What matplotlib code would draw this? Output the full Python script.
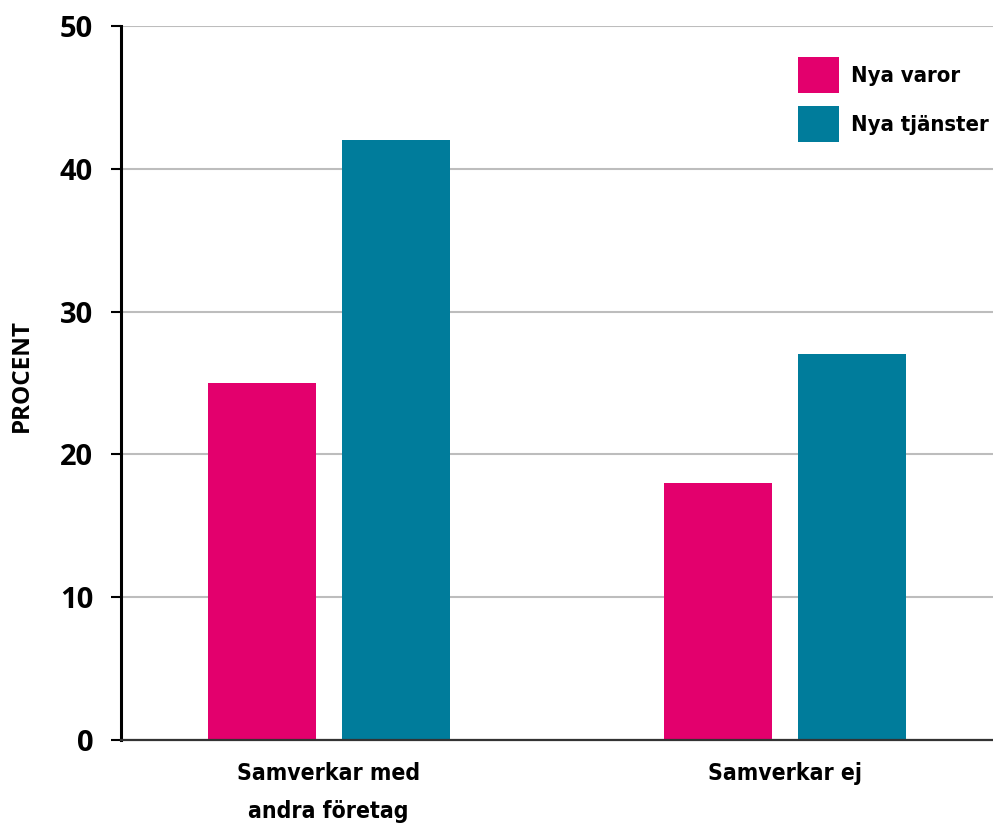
import matplotlib
matplotlib.use("Agg")
import matplotlib.pyplot as plt
import numpy as np

# andel företag med nya varor/tjänster, procent
kategorier = ["Samverkar med\nandra företag", "Samverkar ej"]
serier = ["Nya varor", "Nya tjänster"]
nya_varor = [25, 18]
nya_tjanster = [42, 27]
yticks = [0, 10, 20, 30, 40, 50]

ROSA = "#E3006D"
PETROL = "#007C9B"
GRID = "#BDBDBD"

num_font = dict(family=["Open Sans", "DejaVu Sans"], weight="bold")
narrow_font = dict(family=["DejaVu Sans"], weight="bold", stretch="condensed")

fig = plt.figure(figsize=(9.93, 8.23), dpi=100)
ax = fig.add_axes([121 / 993, 1 - 740 / 823, 1 - 121 / 993, (740 - 26) / 823])

x = np.arange(len(kategorier))
w = 0.237
off = 0.147
ax.bar(x - off, nya_varor, width=w, color=ROSA, label=serier[0], zorder=3)
ax.bar(x + off, nya_tjanster, width=w, color=PETROL, label=serier[1], zorder=3)

ax.set_xlim(-0.455, 1.455)
ax.set_ylim(0, 50)
ax.set_yticks(yticks)
ax.set_yticklabels([str(t) for t in yticks], fontsize=21, **num_font)
ax.set_xticks(x)
ax.set_xticklabels(kategorier, fontsize=16.5, linespacing=1.8, **narrow_font)

ax.yaxis.grid(True, color=GRID, linewidth=1.5, zorder=0)
ax.set_axisbelow(True)
ax.tick_params(axis="y", length=7, width=1.5, pad=13, color="black")
ax.tick_params(axis="x", length=0, pad=16)

for s in ["top", "right"]:
    ax.spines[s].set_visible(False)
ax.spines["left"].set_linewidth(2.2)
ax.spines["left"].set_color("black")
ax.spines["bottom"].set_linewidth(1.6)
ax.spines["bottom"].set_color("#333333")
ax.spines["bottom"].set_zorder(4)

ax.set_ylabel("PROCENT", fontsize=17.5, **num_font)
ax.yaxis.set_label_coords(-0.1, 0.51)

ax.legend(loc="upper left", bbox_to_anchor=(798 / 993, 1 - 57 / 823),
          bbox_transform=fig.transFigure, frameon=False, borderpad=0,
          borderaxespad=0, handlelength=1.87, handleheight=2.15,
          handletextpad=0.55, labelspacing=0.59,
          prop=dict(family=["DejaVu Sans"], weight="bold",
                    stretch="condensed", size=15.8))

fig.savefig("out.png", dpi=100)
